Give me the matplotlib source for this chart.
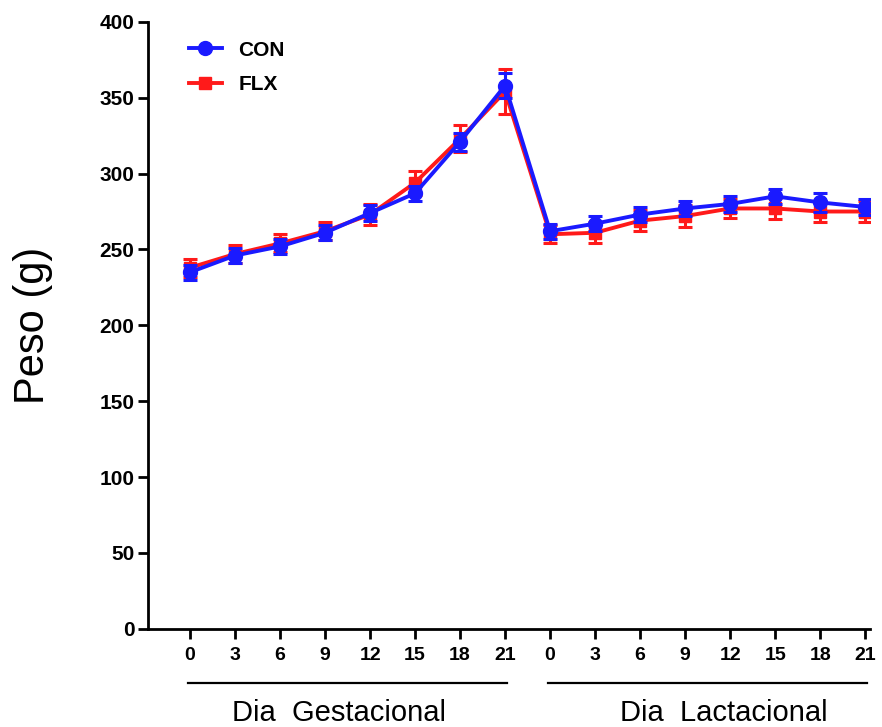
import numpy as np
import matplotlib.pyplot as plt
import matplotlib.transforms as mtransforms
from matplotlib.lines import Line2D

plt.rcParams['font.family'] = ['Liberation Sans', 'DejaVu Sans']

# jours (gestation puis lactation)
dias = ['0', '3', '6', '9', '12', '15', '18', '21',
        '0', '3', '6', '9', '12', '15', '18', '21']
grupos = ['Dia  Gestacional', 'Dia  Lactacional']

con_peso = [235, 246, 252, 261, 274, 287, 321, 358,
            262, 267, 273, 277, 280, 285, 281, 278]
con_sem = [5, 5, 5, 5, 5, 5, 6, 8,
           5, 5, 5, 5, 5, 5, 6, 5]
flx_peso = [238, 247, 254, 262, 273, 294, 323, 354,
            260, 261, 269, 272, 277, 277, 275, 275]
flx_sem = [6, 6, 6, 6, 7, 8, 9, 15,
           6, 7, 7, 7, 6, 7, 7, 7]

cor_con = '#1a1aff'
cor_flx = '#ff1a1a'

x = np.arange(1, len(dias) + 1)

fig = plt.figure(figsize=(8.82, 7.27), dpi=100)
ax = fig.add_axes([0.168, 0.135, 0.818, 0.835])

ax.errorbar(x, flx_peso, yerr=flx_sem, color=cor_flx, marker='s', markersize=8.5,
            linewidth=2.8, capsize=5, capthick=2.2, elinewidth=2.2, zorder=3)
ax.errorbar(x, con_peso, yerr=con_sem, color=cor_con, marker='o', markersize=10,
            linewidth=2.8, capsize=5, capthick=2.2, elinewidth=2.2, zorder=4)

ax.set_ylim(0, 400)
ax.set_yticks(np.arange(0, 401, 50))
ax.set_xlim(0.07, 16.1)
ax.set_xticks(x)
ax.set_xticklabels(dias)

for s in ['top', 'right']:
    ax.spines[s].set_visible(False)
for s in ['left', 'bottom']:
    ax.spines[s].set_linewidth(2)
ax.tick_params(axis='both', width=2, length=7, direction='out')
ax.tick_params(axis='y', labelsize=15, pad=3)
ax.tick_params(axis='x', labelsize=14, pad=6)
for lab in ax.get_xticklabels() + ax.get_yticklabels():
    lab.set_fontweight('bold')

ax.set_ylabel('Peso (g)', fontsize=30)
ax.yaxis.set_label_coords(-0.132, 0.5)

# legende (sans barres d'erreur)
handles = [Line2D([], [], color=cor_con, marker='o', markersize=10, linewidth=2.8),
           Line2D([], [], color=cor_flx, marker='s', markersize=8.5, linewidth=2.8)]
ax.legend(handles, ['CON', 'FLX'], loc='upper left', bbox_to_anchor=(0.03, 1.0),
          frameon=False, prop={'weight': 'bold', 'size': 15},
          handlelength=1.6, handletextpad=0.8, labelspacing=0.75)

# barres de groupe sous l'axe
trans = mtransforms.blended_transform_factory(ax.transData, fig.transFigure)
y_line = 1 - 683 / 727
y_txt = 1 - 713 / 727
decalage = [-0.18, 0.36]  # petit decalage horizontal des textes
for i, g in enumerate(grupos):
    a, b = x[i * 8], x[i * 8 + 7]
    ax.plot([a - 0.05, b + 0.05], [y_line, y_line], color='black', linewidth=1.6,
            transform=trans, clip_on=False)
    ax.text((a + b) / 2 + decalage[i], y_txt, g, transform=trans, ha='center',
            va='center', fontsize=21)

fig.savefig('out.png', dpi=100)
